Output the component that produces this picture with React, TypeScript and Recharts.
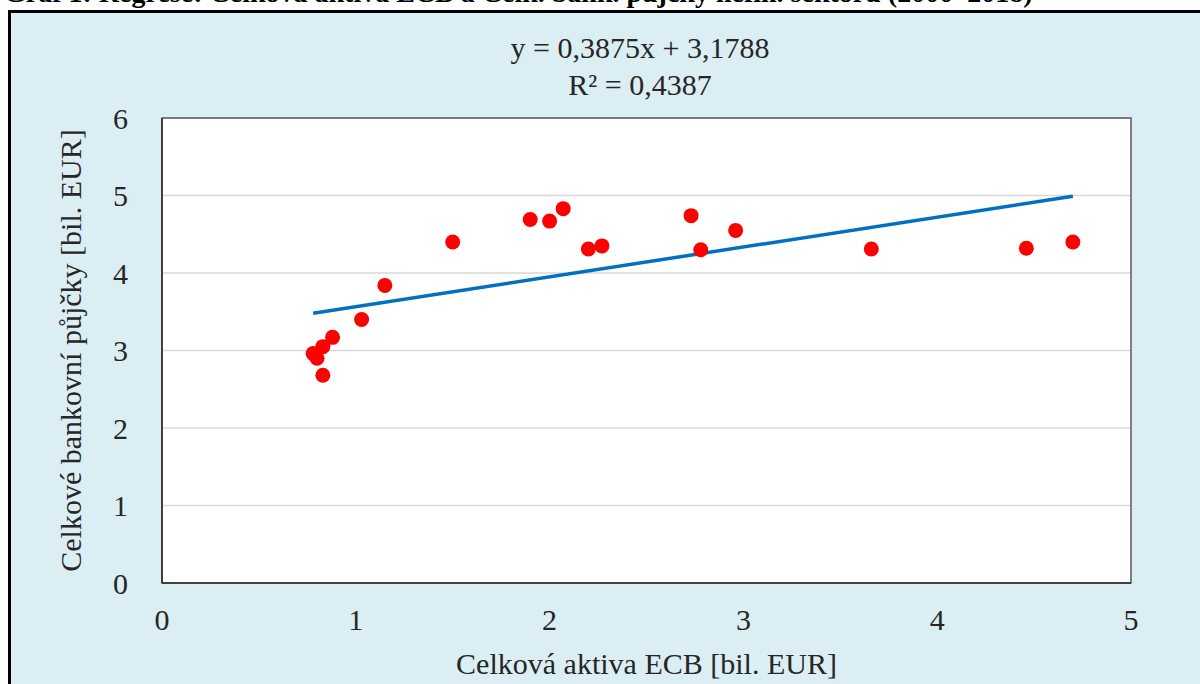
import React from "react";
import {
  ScatterChart,
  Scatter,
  XAxis,
  YAxis,
  CartesianGrid,
  ReferenceArea,
  Label,
} from "recharts";

/* ────────────────────────────────────────── */
/*  Data     */
/* ────────────────────────────────────────── */

// Celková aktiva ECB [bil. EUR], 2000–2018
const ecbAssets = [
  0.78, 0.8, 0.83, 0.88, 0.83, 1.03, 1.15, 1.5, 1.9, 2.0, 2.07, 2.2, 2.27,
  2.73, 2.78, 2.96, 3.66, 4.46, 4.7,
];
// Celkové bankovní půjčky [bil. EUR]
const bankLoans = [
  2.96, 2.9, 3.05, 3.17, 2.68, 3.4, 3.84, 4.4, 4.69, 4.67, 4.83, 4.31, 4.35,
  4.74, 4.3, 4.55, 4.31, 4.32, 4.4,
];

// linear trendline endpoints (y = 0,3875x + 3,1788)
const trendX = [0.78, 4.7];
const trendY = [3.48, 4.99];

const xTicks = [0, 1, 2, 3, 4, 5];
const yTicks = [0, 1, 2, 3, 4, 5, 6];

const equationText = "y = 0,3875x + 3,1788";
const r2Text = "R² = 0,4387";
const titleText =
  "Graf 1: Regrese: Celková aktiva ECB a Celk. bank. půjčky nefin. sektoru (2000–2018)";

const points = ecbAssets.map((x, i) => ({ x, y: bankLoans[i] }));
const trend = trendX.map((x, i) => ({ x, y: trendY[i] }));

const FONT = "'Liberation Serif', 'Times New Roman', serif";
const TEXT = "#262626";
const FS = 30;

/* ────────────────────────────────────────── */
/*  Shapes                                    */
/* ────────────────────────────────────────── */

function RedDot(props: any) {
  const { cx, cy } = props;
  return <circle cx={cx} cy={cy} r={7.5} fill="#ff0000" />;
}

function NoDot() {
  return <g />;
}

export default function App() {
  return (
    <div
      style={{
        position: "absolute",
        left: 0,
        top: 0,
        width: 1200,
        height: 684,
        background: "#ffffff",
        overflow: "hidden",
        fontFamily: FONT,
      }}
    >
      {/* caption above the frame (cut off by the page top, as in the source) */}
      <div
        style={{
          position: "absolute",
          left: 4,
          top: -21,
          fontSize: 28,
          lineHeight: "28px",
          fontWeight: "bold",
          color: "#000",
          whiteSpace: "nowrap",
        }}
      >
        {titleText}
      </div>

      {/* frame */}
      <div
        style={{
          position: "absolute",
          left: 8,
          top: 10,
          width: 1200,
          height: 700,
          background: "#dbeef4",
          borderLeft: "3px solid #000",
          borderTop: "3px solid #000",
        }}
      />

      {/* trendline label */}
      <div
        style={{
          position: "absolute",
          left: 440,
          width: 400,
          top: 29,
          textAlign: "center",
          fontSize: FS,
          lineHeight: "37px",
          color: TEXT,
        }}
      >
        <div>{equationText}</div>
        <div>{r2Text}</div>
      </div>

      <div style={{ position: "absolute", left: 0, top: 0 }}>
        <ScatterChart
          width={1200}
          height={684}
          margin={{ top: 118, right: 69, bottom: 0, left: 22 }}
        >
          <CartesianGrid
            horizontal
            vertical={false}
            stroke="#d9d9d9"
            strokeWidth={1.5}
            fill="#ffffff"
            fillOpacity={1}
          />
          <XAxis
            type="number"
            dataKey="x"
            domain={[0, 5]}
            ticks={xTicks}
            height={101}
            tickLine={false}
            axisLine={{ stroke: "#404040", strokeWidth: 2 }}
            tickMargin={20}
            tick={{ fontSize: FS, fill: TEXT, fontFamily: FONT }}
          >
            <Label
              content={({ viewBox }: any) => (
                <text
                  x={viewBox.x + viewBox.width / 2}
                  y={viewBox.y + 91}
                  textAnchor="middle"
                  fontSize={FS}
                  fill={TEXT}
                  fontFamily={FONT}
                >
                  Celková aktiva ECB [bil. EUR]
                </text>
              )}
            />
          </XAxis>
          <YAxis
            type="number"
            dataKey="y"
            domain={[0, 6]}
            ticks={yTicks}
            width={140}
            tickLine={false}
            axisLine={{ stroke: "#404040", strokeWidth: 2 }}
            tickMargin={28}
            tick={{ fontSize: FS, fill: TEXT, fontFamily: FONT }}
          >
            <Label
              content={({ viewBox }: any) => {
                const cx = 70;
                const cy = viewBox.y + viewBox.height / 2;
                return (
                  <text
                    x={cx}
                    y={cy}
                    transform={`rotate(-90 ${cx} ${cy})`}
                    textAnchor="middle"
                    dominantBaseline="central"
                    fontSize={FS}
                    fill={TEXT}
                    fontFamily={FONT}
                  >
                    Celkové bankovní půjčky [bil. EUR]
                  </text>
                );
              }}
            />
          </YAxis>
          <ReferenceArea
            x1={0}
            x2={5}
            y1={0}
            y2={6}
            fill="none"
            stroke="#595959"
            strokeWidth={1.5}
            ifOverflow="visible"
          />
          <Scatter
            data={trend}
            line={{ stroke: "#0070c0", strokeWidth: 3.5 }}
            lineType="joint"
            shape={<NoDot />}
            isAnimationActive={false}
          />
          <Scatter
            data={points}
            shape={<RedDot />}
            isAnimationActive={false}
          />
        </ScatterChart>
      </div>
    </div>
  );
}
